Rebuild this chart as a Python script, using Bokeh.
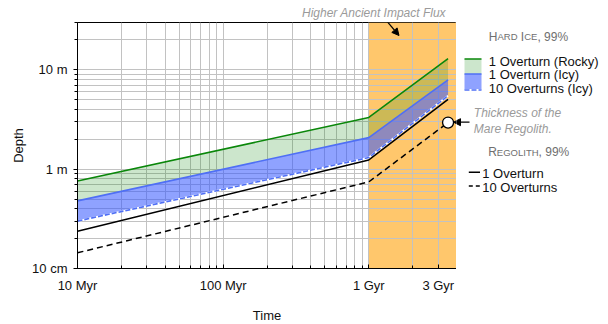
import math
from bokeh.plotting import figure
from bokeh.layouts import row
from bokeh.models import (FixedTicker, Label, Arrow, NormalHead, BoxAnnotation, Range1d)
from bokeh.embed import file_html
from bokeh.resources import INLINE

# ---------------- data ----------------
time_myr = [10, 1000, 3500]
hard_ice_rocky_1 = [0.76, 3.32, 13.0]
hard_ice_icy_1 = [0.48, 2.08, 7.95]
hard_ice_icy_10 = [0.30, 1.31, 5.5]
regolith_1 = [0.237, 1.24, 5.05]
regolith_10 = [0.144, 0.745, 2.95]
mare_time = [3500]
mare_depth = [2.95]
impact_flux_period = [1000, 4000]

x_ticks = [10, 100, 1000, 3000]
x_tick_labels = ["10 Myr", "100 Myr", "1 Gyr", "3 Gyr"]
x_minor = [20, 30, 40, 50, 60, 70, 80, 90, 200, 300, 400, 500, 600, 700, 800, 900, 2000, 4000]
y_ticks = [0.1, 1, 10]
y_tick_labels = ["10 cm", "1 m", "10 m"]
y_minor = [0.2, 0.3, 0.4, 0.5, 0.6, 0.7, 0.8, 0.9, 2, 3, 4, 5, 6, 7, 8, 9, 20, 30]

# ---------------- style ----------------
FONT = "Liberation Sans"
GREEN = "#0a870a"
BLUE = "#4f6ff5"
BLUE_FILL = "#3355ff"
ORANGE = "#ffc76c"
GRID = "#c2c2c2"
NOTE = "#9a9a9a"
TITLE_GRAY = "#6f6f6f"

FRAME_L, FRAME_T, FRAME_B, FRAME_R = 77, 22, 268, 456  # page position of frame edges
FRAME_W, FRAME_H = FRAME_R - FRAME_L, FRAME_B - FRAME_T
BORDER_B = 324 - FRAME_B
TEXT_DY = -4.5  # baseline correction for side-panel labels

def sx(X):
    return X - FRAME_L

def sy(Y):
    return FRAME_B - Y

# ================= main chart =================
p = figure(x_axis_type="log", y_axis_type="log",
           x_range=Range1d(10, 4000), y_range=Range1d(0.1, 30),
           frame_width=FRAME_W, frame_height=FRAME_H,
           min_border_left=FRAME_L, min_border_right=0,
           min_border_top=FRAME_T, min_border_bottom=BORDER_B,
           output_backend="svg", toolbar_location=None)
p.outline_line_color = "black"
p.outline_line_width = 1
p.background_fill_color = "white"
p.border_fill_color = "white"

p.title.text = "Higher Ancient Impact Flux"
p.title.text_font = FONT
p.title.text_font_size = "12px"
p.title.text_font_style = "italic"
p.title.text_color = NOTE
p.title.align = "left"
p.title.offset = 224.5
p.title.standoff = 5

# impact flux region (under grid)
p.add_layout(BoxAnnotation(left=impact_flux_period[0], right=impact_flux_period[1],
                           fill_color=ORANGE, fill_alpha=1.0, line_color=None, level="image"))

# axes
p.xaxis.ticker = FixedTicker(ticks=x_ticks, minor_ticks=x_minor)
p.yaxis.ticker = FixedTicker(ticks=y_ticks, minor_ticks=y_minor)
p.xaxis.major_label_overrides = {t: l for t, l in zip(x_ticks, x_tick_labels)}
p.yaxis.major_label_overrides = {t: l for t, l in zip(y_ticks, y_tick_labels)}
for ax in (p.xaxis[0], p.yaxis[0]):
    ax.axis_line_color = "black"
    ax.major_tick_line_color = "black"
    ax.minor_tick_line_color = "black"
    ax.major_label_text_font = FONT
    ax.major_label_text_font_size = "13px"
    ax.major_label_text_color = "#111111"
    ax.axis_label_text_font = FONT
    ax.axis_label_text_font_size = "13px"
    ax.axis_label_text_font_style = "normal"
    ax.axis_label_text_color = "#111111"
p.xaxis.axis_label = "Time"
p.yaxis.axis_label = "Depth"
p.xaxis.major_tick_in = 4
p.xaxis.major_tick_out = 0
p.xaxis.minor_tick_in = 3
p.xaxis.minor_tick_out = 0
p.xaxis.major_label_standoff = 9
p.xaxis.axis_label_standoff = 12
p.yaxis.major_tick_in = 0
p.yaxis.major_tick_out = 4
p.yaxis.minor_tick_in = 0
p.yaxis.minor_tick_out = 3
p.yaxis.major_label_standoff = 6
p.yaxis.axis_label_standoff = 3

for g in (p.xgrid[0], p.ygrid[0]):
    g.grid_line_color = GRID
    g.grid_line_width = 1
    g.minor_grid_line_color = GRID
    g.minor_grid_line_width = 1

# fills
p.varea(x=time_myr, y1=hard_ice_icy_1, y2=hard_ice_rocky_1, fill_color="#008000", fill_alpha=0.2)
p.varea(x=time_myr, y1=hard_ice_icy_10, y2=hard_ice_icy_1, fill_color=BLUE_FILL, fill_alpha=0.55)

# lines
p.line(time_myr, regolith_10, line_color="black", line_width=1.5, line_dash="6 4")
p.line(time_myr, regolith_1, line_color="black", line_width=1.5)
p.line(time_myr, hard_ice_icy_10, line_color="white", line_width=1.8)
p.line(time_myr, hard_ice_icy_10, line_color=BLUE, line_width=1.6, line_dash="5 2")
p.line(time_myr, hard_ice_icy_1, line_color=BLUE, line_width=1.6)
p.line(time_myr, hard_ice_rocky_1, line_color=GREEN, line_width=1.6)
p.scatter(mare_time, mare_depth, size=11, fill_color="white", line_color="black", line_width=1.3)

def head():
    return NormalHead(size=7, fill_color="black", line_color="black", line_width=1)

# arrows inside the main frame (screen units, frame relative)
p.add_layout(Arrow(end=head(), x_start=sx(384.5), y_start=sy(18.5), x_end=sx(398.5), y_end=sy(35),
                   start_units="screen", end_units="screen", line_color="black", line_width=1.2))
p.add_layout(Arrow(end=head(), x_start=sx(469), y_start=sy(121.7), x_end=sx(453), y_end=sy(121.7),
                   start_units="screen", end_units="screen", line_color="black", line_width=1.2))

# ================= side panel (legend + notes), page-pixel coordinates =================
s = figure(x_range=Range1d(FRAME_R, 608), y_range=Range1d(FRAME_B, FRAME_T),
           frame_width=608 - FRAME_R, frame_height=FRAME_H,
           min_border_left=0, min_border_right=0,
           min_border_top=FRAME_T, min_border_bottom=BORDER_B,
           x_axis_location=None, y_axis_location=None,
           output_backend="svg", toolbar_location=None)
s.grid.visible = False
s.outline_line_color = None
s.background_fill_color = "white"
s.border_fill_color = "white"

ARIAL = {"H": 722, "A": 667, "R": 722, "D": 722, "I": 278, "C": 722, "E": 667, "G": 778,
         "O": 778, "L": 556, "T": 611, " ": 278, ",": 278, "9": 556, "%": 889}

def label(text, X, Y, size="13px", color="#111111", style="normal", align="left"):
    s.add_layout(Label(x=X, y=Y + TEXT_DY, text=text, text_font=FONT, text_font_size=size,
                       text_color=color, text_font_style=style, text_align=align,
                       text_baseline="alphabetic"))

def small_caps(text, X, Y, big=12.0, small=9.5, color=TITLE_GRAY):
    groups = []
    for c in text:
        sz = small if c.islower() else big
        ch = c.upper()
        if groups and groups[-1][1] == sz:
            groups[-1][0] += ch
        else:
            groups.append([ch, sz])
    x = X
    for txt, sz in groups:
        lead = len(txt) - len(txt.lstrip(" "))
        x += lead * ARIAL[" "] * sz / 1000.0
        txt = txt.lstrip(" ")
        if txt:
            label(txt, x, Y, size=f"{sz}px", color=color)
            x += sum(ARIAL.get(ch, 600) for ch in txt) * sz / 1000.0

def seg(X0, Y0, X1, Y1, color, width=1.5, dash="solid"):
    s.add_layout(Arrow(end=None, x_start=X0, y_start=Y0, x_end=X1, y_end=Y1,
                       line_color=color, line_width=width, line_dash=dash))

# arrow tail towards the mare regolith point
s.add_layout(Arrow(end=head(), x_start=469, y_start=121.7, x_end=453, y_end=121.7,
                   line_color="black", line_width=1.2))

label("Thickness of the", 473.3, 116.7, size="12px", color=NOTE, style="italic")
label("Mare Regolith.", 473.3, 132.5, size="12px", color=NOTE, style="italic")

# legend: hard ice
small_caps("Hard Ice, 99%", 488.3, 40.7)
s.quad(left=[464], right=[481], top=[58.5], bottom=[73.5], fill_color="#008000", fill_alpha=0.2, line_color=None)
s.quad(left=[464], right=[481], top=[73.5], bottom=[89.5], fill_color=BLUE_FILL, fill_alpha=0.55, line_color=None)
seg(464, 58.5, 481, 58.5, GREEN, 1.6)
seg(464, 73.5, 481, 73.5, BLUE, 1.6)
seg(464, 89.5, 481, 89.5, "white", 1.8)
seg(464, 89.5, 481, 89.5, BLUE, 1.6, "5 2")
label("1 Overturn (Rocky)", 488.3, 65.5)
label("1 Overturn (Icy)", 488.3, 78.5)
label("10 Overturns (Icy)", 488.3, 92)

# legend: regolith
small_caps("Regolith, 99%", 487.7, 156)
seg(468.3, 171.8, 479.5, 171.8, "black", 1.5)
seg(468.3, 185.5, 479.5, 185.5, "black", 1.5, "4 3")
label("1 Overturn", 481.7, 177.3)
label("10 Overturns", 481.7, 191)

layout = row(p, s, spacing=0)
open("out.html", "w").write(file_html(layout, INLINE))
